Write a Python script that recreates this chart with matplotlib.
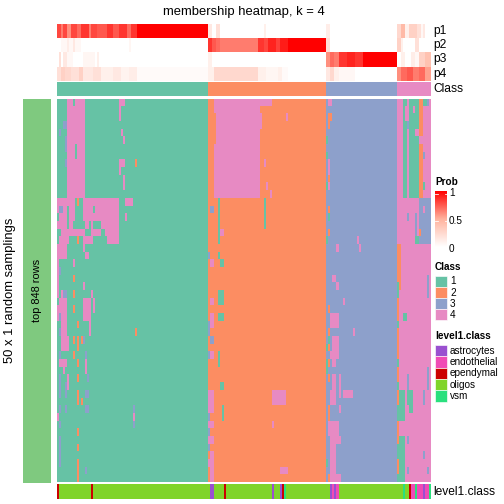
import numpy as np
import matplotlib
matplotlib.use('Agg')
import matplotlib.pyplot as plt
from matplotlib.colors import ListedColormap, LinearSegmentedColormap
from matplotlib.patches import Rectangle

plt.rcParams['font.family'] = ['Liberation Sans', 'DejaVu Sans']

# ---------------- data ----------------
title = "membership heatmap, k = 4"
class_labels = ['1', '2', '3', '4']
class_colors = ['#66C2A5', '#FC8D62', '#8DA0CB', '#E78AC3']
class_counts = [75, 59, 35, 17]          # columns per consensus class
n_rows = 50                              # random samplings

# membership probabilities (value, run length) per column
p1_runs = [(0.8, 2), (0.65, 1), (0.8, 2), (0.6, 2), (0.8, 3), (0.7, 2), (0.85, 4), (0.65, 1),
           (0.8, 3), (0.75, 5), (0.85, 3), (0.75, 3), (0.85, 4), (0.7, 2), (0.85, 3), (1.0, 35),
           (0.15, 2), (0, 2), (0.2, 2), (0, 22), (0.1, 1), (0, 30),
           (0.12, 2), (0, 33),
           (0.25, 2), (0.45, 2), (0.1, 2), (0.3, 4), (0.2, 2), (0.05, 1), (0.15, 1), (0, 3)]
p2_runs = [(0, 2), (0.05, 3), (0.12, 1), (0.05, 2), (0.15, 1), (0.05, 3), (0, 24), (0.06, 1), (0, 38),
           (0.85, 2), (0.75, 2), (0.7, 2), (0.65, 19), (0.85, 3), (0.8, 2), (0.9, 4), (0.82, 2), (0.92, 4), (1.0, 19),
           (0.2, 2), (0, 33),
           (0.3, 2), (0.1, 1), (0, 6), (0.2, 2), (0, 6)]
p3_runs = [(0, 1), (0.2, 1), (0, 1), (0.15, 2), (0.05, 3), (0, 5), (0.06, 6), (0, 1), (0.1, 1), (0, 54),
           (0.1, 2), (0, 57),
           (0.6, 2), (0.7, 2), (0.65, 2), (0.85, 4), (0.9, 4), (0.85, 4), (1.0, 17),
           (0, 2), (0.1, 2), (0, 3), (0.12, 2), (0.05, 2), (0.3, 3), (0.4, 3)]
p4_runs = [(0.2, 2), (0.3, 2), (0.25, 3), (0.2, 4), (0.3, 2), (0.15, 5), (0.2, 4), (0.1, 6), (0.15, 4),
           (0.08, 4), (0.12, 4), (0.03, 35),
           (0.1, 3), (0.25, 22), (0.1, 4), (0.06, 6), (0.1, 2), (0.03, 3), (0, 19),
           (0.15, 2), (0.25, 2), (0.1, 2), (0.05, 8), (0, 21),
           (0.6, 2), (0.7, 3), (0.75, 3), (0.65, 3), (0.7, 3), (0.55, 3)]

# per-sampling class calls that differ from the consensus class:
# (row_start, row_end, col_start, col_end, class)
overrides = [
    # class-1 columns
    (0, 13, 5, 14, 4), (0, 1, 8, 9, 1), (6, 8, 9, 10, 1), (4, 5, 1, 2, 3), (3, 4, 3, 5, 3),
    (5, 7, 4, 5, 3), (8, 9, 4, 5, 3), (0, 1, 31, 34, 4), (1, 3, 31, 32, 4), (4, 5, 32, 33, 4),
    (5, 6, 33, 34, 4), (8, 9, 31, 34, 4), (9, 10, 31, 32, 4), (10, 12, 33, 34, 4), (8, 9, 39, 40, 2),
    (13, 14, 0, 9, 4), (13, 14, 10, 11, 2), (13, 14, 13, 31, 4), (13, 14, 34, 38, 4),
    (14, 15, 0, 1, 4), (14, 15, 1, 3, 3), (14, 15, 3, 5, 4), (14, 15, 6, 9, 4), (14, 15, 13, 18, 4),
    (14, 15, 19, 31, 4),
    (15, 16, 1, 5, 4), (15, 16, 6, 9, 4), (15, 16, 13, 31, 4), (15, 16, 34, 35, 4),
    (16, 17, 0, 5, 4), (16, 17, 6, 8, 4), (16, 17, 14, 16, 4), (16, 17, 17, 18, 4), (16, 17, 22, 31, 4),
    (17, 18, 2, 14, 4), (17, 18, 17, 22, 4), (17, 18, 24, 31, 4),
    (18, 19, 1, 6, 4), (18, 19, 10, 11, 2), (18, 19, 13, 18, 4), (18, 19, 25, 31, 4),
    (19, 21, 0, 5, 4), (21, 26, 0, 1, 4), (19, 20, 13, 14, 4), (20, 21, 14, 16, 4), (21, 22, 8, 9, 4),
    (22, 23, 1, 2, 3), (23, 24, 8, 9, 2), (24, 25, 13, 14, 4), (25, 26, 3, 5, 3), (25, 26, 8, 9, 2),
    (25, 26, 17, 18, 4), (25, 26, 2, 3, 4),
    (26, 28, 1, 5, 4), (27, 29, 0, 1, 4), (26, 29, 13, 17, 4), (26, 28, 18, 19, 4), (27, 28, 8, 9, 2),
    (28, 29, 1, 2, 3), (28, 33, 2, 5, 4), (29, 30, 10, 11, 2), (29, 31, 16, 17, 4), (30, 31, 1, 2, 3),
    (30, 31, 39, 40, 2), (31, 33, 5, 6, 4), (31, 32, 8, 9, 2), (31, 33, 10, 11, 2), (31, 32, 12, 13, 2),
    (31, 32, 13, 14, 3), (33, 34, 1, 2, 3), (33, 34, 8, 9, 2), (33, 34, 14, 15, 3), (34, 35, 1, 5, 4),
    (34, 35, 10, 11, 2), (34, 36, 14, 15, 4), (35, 36, 3, 4, 4), (36, 39, 1, 2, 3), (36, 38, 5, 6, 4),
    (37, 39, 4, 5, 3), (36, 37, 10, 11, 2), (36, 37, 15, 16, 3), (38, 40, 10, 11, 2), (39, 40, 12, 13, 2),
    (38, 39, 14, 16, 3), (40, 41, 1, 2, 3), (40, 41, 4, 5, 3), (40, 41, 14, 16, 3), (40, 43, 38, 39, 3),
    (41, 42, 38, 39, 4), (41, 42, 0, 1, 4), (42, 43, 1, 2, 3), (43, 44, 10, 11, 2), (44, 48, 1, 2, 3),
    (45, 46, 10, 11, 2), (47, 50, 10, 11, 2), (48, 49, 14, 15, 3),
    # class-2 columns
    (0, 13, 78, 101, 4), (2, 6, 78, 79, 2), (0, 1, 101, 107, 4), (2, 4, 101, 102, 4),
    (2, 3, 114, 115, 4), (8, 9, 103, 104, 4), (11, 12, 104, 105, 4), (12, 13, 106, 107, 4),
    (13, 17, 103, 104, 1), (14, 15, 76, 78, 3), (13, 19, 80, 81, 1), (17, 18, 81, 83, 4),
    (20, 21, 75, 76, 3), (20, 21, 80, 81, 1), (21, 22, 76, 78, 4), (21, 22, 81, 83, 1),
    (25, 27, 80, 83, 1), (26, 27, 76, 78, 4), (28, 30, 76, 78, 4), (28, 29, 80, 83, 1),
    (29, 31, 75, 76, 3), (31, 32, 76, 78, 3), (33, 34, 75, 76, 3), (33, 34, 76, 78, 4),
    (33, 35, 80, 81, 1), (37, 38, 81, 83, 1), (38, 41, 75, 78, 4), (40, 42, 82, 83, 1),
    (41, 42, 75, 76, 3), (42, 43, 75, 78, 4), (43, 44, 75, 76, 3), (44, 45, 75, 78, 4),
    (45, 46, 75, 76, 3), (46, 47, 76, 78, 4), (47, 48, 75, 78, 4), (48, 50, 76, 78, 4),
    (38, 40, 107, 114, 4), (42, 43, 107, 108, 4), (48, 49, 111, 115, 4),
    # class-3 columns
    (0, 1, 135, 137, 4), (2, 3, 135, 137, 2), (3, 4, 135, 136, 2), (5, 6, 134, 135, 1),
    (7, 8, 134, 135, 1), (8, 10, 135, 136, 4), (10, 11, 135, 136, 2), (11, 12, 135, 136, 4),
    (11, 12, 134, 135, 1), (14, 15, 135, 136, 2), (15, 16, 135, 136, 1), (17, 18, 135, 136, 2),
    (18, 19, 134, 135, 1), (18, 19, 149, 150, 4), (19, 20, 139, 140, 4), (19, 20, 150, 151, 4),
    (23, 24, 137, 139, 4), (24, 25, 139, 140, 4), (26, 27, 142, 143, 4), (27, 28, 135, 136, 2),
    (28, 30, 136, 140, 4), (30, 31, 135, 136, 2), (30, 31, 147, 148, 4), (31, 32, 135, 136, 1),
    (31, 33, 137, 140, 4), (32, 33, 134, 135, 1), (32, 33, 135, 136, 2), (33, 34, 136, 140, 4),
    (34, 35, 135, 136, 2), (34, 36, 134, 135, 1), (34, 35, 137, 139, 4), (36, 37, 135, 136, 2),
    (36, 39, 137, 139, 4), (36, 38, 140, 141, 4), (38, 40, 136, 139, 4), (38, 39, 140, 141, 4),
    (38, 39, 142, 147, 4), (40, 42, 135, 136, 2), (40, 41, 140, 141, 4), (42, 44, 135, 140, 4),
    (44, 45, 136, 141, 4), (45, 50, 136, 139, 4), (47, 48, 134, 135, 1), (49, 50, 135, 136, 2),
    (49, 50, 136, 141, 4),
    # class-4 columns
    (0, 13, 172, 174, 1), (1, 3, 173, 174, 4), (3, 4, 174, 175, 3), (0, 13, 175, 180, 1),
    (1, 2, 177, 178, 4), (4, 5, 178, 180, 4), (0, 13, 180, 182, 2), (5, 6, 180, 182, 4),
    (0, 1, 182, 184, 1), (11, 12, 182, 183, 1), (7, 8, 182, 183, 3), (0, 1, 184, 185, 3),
    (13, 19, 180, 186, 3), (14, 15, 182, 183, 4), (17, 18, 180, 181, 2), (18, 19, 178, 180, 1),
    (15, 18, 178, 179, 3), (15, 16, 174, 175, 3),
    (19, 25, 169, 171, 2), (23, 24, 184, 185, 3),
    (24, 26, 169, 170, 1), (26, 29, 169, 170, 2), (29, 30, 169, 170, 1), (30, 34, 169, 170, 2),
    (34, 35, 169, 170, 1), (35, 37, 169, 170, 2), (37, 38, 169, 170, 1), (38, 40, 169, 170, 2),
    (42, 45, 169, 170, 2), (45, 47, 169, 170, 1), (47, 49, 169, 170, 2), (49, 50, 169, 170, 1),
    (38, 40, 170, 173, 1), (40, 42, 169, 173, 1), (44, 50, 170, 173, 1),
    (28, 29, 172, 174, 1), (36, 38, 174, 175, 3), (44, 45, 174, 175, 3), (48, 49, 174, 175, 3),
    (38, 40, 174, 177, 1), (40, 41, 175, 177, 1),
    (38, 40, 182, 183, 3), (35, 38, 184, 185, 3), (24, 26, 184, 185, 3), (48, 49, 184, 185, 3),
    (46, 47, 182, 183, 3),
]

level1_names = ['astrocytes', 'endothelial', 'ependymal', 'oligos', 'vsm']
level1_colors = ['#9A50D0', '#F04BB5', '#CC0000', '#80D42A', '#2AE07E']
level1_runs = [('ependymal', 1), ('oligos', 16), ('ependymal', 1), ('oligos', 58), ('astrocytes', 2),
               ('oligos', 5), ('ependymal', 1), ('oligos', 23), ('astrocytes', 1), ('oligos', 3),
               ('astrocytes', 1), ('ependymal', 1), ('vsm', 1), ('oligos', 22), ('astrocytes', 1),
               ('endothelial', 1), ('astrocytes', 1), ('endothelial', 1), ('oligos', 32), ('vsm', 1),
               ('oligos', 2), ('ependymal', 1), ('endothelial', 2), ('vsm', 1), ('endothelial', 3),
               ('astrocytes', 1), ('endothelial', 2), ('vsm', 1)]

prob_ticks = [0, 0.5, 1]
row_title = "50 x 1 random samplings"
row_anno_text = "top 848 rows"
row_anno_color = '#7FC97F'

# ---------------- build matrices ----------------
def expand(runs):
    return np.concatenate([np.full(n, v, dtype=float) for v, n in runs])

class_row = np.concatenate([np.full(n, i + 1) for i, n in enumerate(class_counts)])
ncol = class_row.size
P = np.vstack([expand(r) for r in (p1_runs, p2_runs, p3_runs, p4_runs)])
M = np.tile(class_row, (n_rows, 1))
for r0, r1, c0, c1, k in overrides:
    M[r0:r1, c0:c1] = k
lev = np.concatenate([np.full(n, level1_names.index(name)) for name, n in level1_runs])

# ---------------- drawing ----------------
W = H = 504
fig = plt.figure(figsize=(7, 7), dpi=72)

def add_ax(x0, y0, x1, y1):
    ax = fig.add_axes([x0 / W, 1 - y1 / H, (x1 - x0) / W, (y1 - y0) / H])
    ax.set_axis_off()
    return ax

def ftext(x, y, s, **kw):
    fig.text(x / W, 1 - y / H, s, **kw)

def rect(x0, y0, x1, y1, fc, ec='none', lw=0):
    fig.add_artist(Rectangle((x0 / W, 1 - y1 / H), (x1 - x0) / W, (y1 - y0) / H,
                             transform=fig.transFigure, facecolor=fc, edgecolor=ec, linewidth=lw))

prob_cmap = LinearSegmentedColormap.from_list('prob', ['#FFFFFF', '#FFB39E', '#FF0000'])
class_cmap = ListedColormap(class_colors)
lev_cmap = ListedColormap(level1_colors)

X0, X1 = 57, 430

ftext(243.5, 11.5, title, ha='center', va='center', fontsize=13)

ax = add_ax(X0, 24, X1, 80.7)
ax.imshow(P, cmap=prob_cmap, vmin=0, vmax=1, aspect='auto', interpolation='nearest')
ax = add_ax(X0, 82, X1, 96)
ax.imshow(class_row[None, :] - 1, cmap=class_cmap, vmin=-0.5, vmax=3.5, aspect='auto', interpolation='nearest')

ax = add_ax(X0, 99, X1, 482.5)
ax.imshow(M - 1, cmap=class_cmap, vmin=-0.5, vmax=3.5, aspect='auto', interpolation='nearest')

ax = add_ax(X0, 483.7, X1, 499)
ax.imshow(lev[None, :], cmap=lev_cmap, vmin=-0.5, vmax=4.5, aspect='auto', interpolation='nearest')

for i, name in enumerate(['p1', 'p2', 'p3', 'p4']):
    ftext(433, 31 + 14.2 * i, name, ha='left', va='center', fontsize=12)
ftext(433, 89.5, 'Class', ha='left', va='center', fontsize=12)
ftext(433, 492, 'level1.class', ha='left', va='center', fontsize=12)

rect(23, 99, 51, 482.5, row_anno_color)
ftext(37, 290, row_anno_text, ha='center', va='center', rotation=90, fontsize=11)
ftext(10, 290, row_title, ha='center', va='center', rotation=90, fontsize=13)

# Prob legend
ftext(435, 182, 'Prob', ha='left', va='center', fontsize=10, fontweight='bold')
cb0, cb1 = 191, 247
axc = add_ax(435, cb0, 447, cb1)
grad = np.linspace(1, 0, 200)[:, None]
axc.imshow(grad, cmap=prob_cmap, vmin=0, vmax=1, aspect='auto', interpolation='bilinear')
for v in prob_ticks:
    yy = 248.5 - 55 * v
    lab = '0.5' if v == 0.5 else str(int(v))
    ftext(449, yy, lab, ha='left', va='center', fontsize=10)
    ty = min(max(yy, cb0 + 0.5), cb1 - 0.5)
    fig.add_artist(plt.Line2D([435 / W, 437.5 / W], [1 - ty / H] * 2, color='white', lw=0.8, transform=fig.transFigure))
    fig.add_artist(plt.Line2D([444.5 / W, 447 / W], [1 - ty / H] * 2, color='white', lw=0.8, transform=fig.transFigure))

# Class legend
ftext(435, 267, 'Class', ha='left', va='center', fontsize=10, fontweight='bold')
for i, lab in enumerate(class_labels):
    y0 = 275.5 + 11.2 * i
    rect(435, y0, 447, y0 + 11.2, class_colors[i], ec='white', lw=0.6)
    ftext(450, y0 + 5.8, lab, ha='left', va='center', fontsize=10)

# level1.class legend
ftext(435, 336, 'level1.class', ha='left', va='center', fontsize=10, fontweight='bold')
for i, lab in enumerate(level1_names):
    y0 = 345 + 11.3 * i
    rect(435, y0, 447, y0 + 11.3, level1_colors[i], ec='white', lw=0.6)
    ftext(450, y0 + 5.8, lab, ha='left', va='center', fontsize=10)

fig.savefig('out.png', dpi=72)
